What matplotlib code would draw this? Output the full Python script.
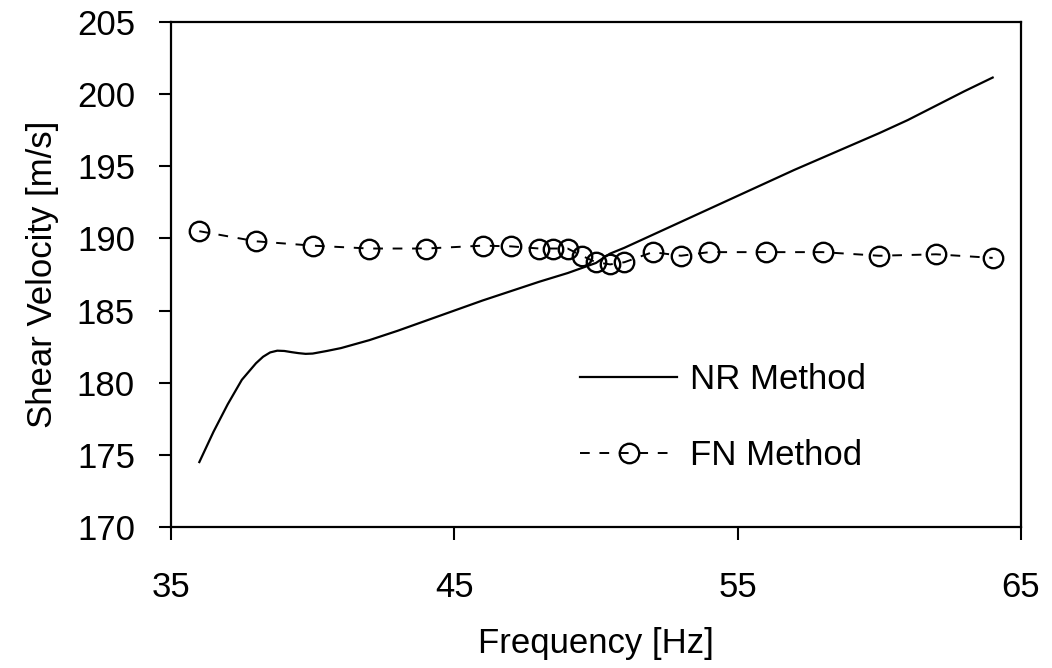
import matplotlib
matplotlib.use("Agg")
import matplotlib.pyplot as plt

plt.rcParams['font.family'] = ['Liberation Sans', 'DejaVu Sans']

# NR Method (continuous curve)
nr_freq = [36, 36.5, 37, 37.5, 38, 38.25, 38.5, 38.75, 39, 39.25, 39.5, 39.75, 40,
           40.5, 41, 42, 43, 44, 45, 46, 47, 48, 49, 50, 50.3, 50.5, 51, 52, 53,
           54, 55, 56, 57, 58, 59, 60, 61, 62, 63, 64]
nr_vel = [174.5, 176.6, 178.5, 180.2, 181.35, 181.8, 182.1, 182.22, 182.2, 182.12,
          182.05, 182.0, 182.02, 182.2, 182.4, 182.95, 183.6, 184.3, 185.0, 185.7,
          186.35, 187.0, 187.6, 188.3, 188.7, 188.95, 189.35, 190.25, 191.15,
          192.05, 192.95, 193.85, 194.75, 195.6, 196.45, 197.3, 198.2, 199.2,
          200.2, 201.15]

# FN Method (markers)
fn_freq = [36, 38, 40, 42, 44, 46, 47, 48, 48.5, 49, 49.5, 50, 50.5, 51, 52, 53,
           54, 56, 58, 60, 62, 64]
fn_vel = [190.5, 189.8, 189.5, 189.3, 189.3, 189.5, 189.45, 189.3, 189.3, 189.3,
          188.8, 188.35, 188.2, 188.35, 189.05, 188.8, 189.05, 189.05, 189.05,
          188.8, 188.9, 188.65]

x_ticks = [35, 45, 55, 65]
y_ticks = [170, 175, 180, 185, 190, 195, 200, 205]

FS = 25

fig = plt.figure(figsize=(10.52, 6.68), dpi=100)
ax = fig.add_axes([171/1052, 1-527/668, (1021-171)/1052, (527-22)/668])

ax.plot(nr_freq, nr_vel, color='black', lw=1.6, label='NR Method')
ax.plot(fn_freq, fn_vel, color='black', lw=1.4, linestyle=(0, (5, 5)),
        marker='o', markersize=14, markerfacecolor='none', markeredgewidth=1.7,
        markeredgecolor='black', label='FN Method')

ax.set_xlim(35, 65)
ax.set_ylim(170, 205)
ax.set_xticks(x_ticks)
ax.set_yticks(y_ticks)
ax.tick_params(axis='both', direction='out', length=9, width=1.5, labelsize=FS,
               top=False, right=False)
ax.tick_params(axis='x', pad=23)
ax.tick_params(axis='y', pad=17)
for s in ax.spines.values():
    s.set_linewidth(1.6)

ax.set_xlabel('Frequency [Hz]', fontsize=FS, labelpad=16)
ax.set_ylabel('Shear Velocity [m/s]', fontsize=FS, labelpad=13)

leg = ax.legend(loc='upper left', bbox_to_anchor=(580/1052, 1-363/668),
                bbox_transform=fig.transFigure, frameon=False,
                fontsize=FS, handlelength=2.8, handletextpad=0.36,
                labelspacing=1.25, borderpad=0, borderaxespad=0)

fig.savefig('out.png', dpi=100)
